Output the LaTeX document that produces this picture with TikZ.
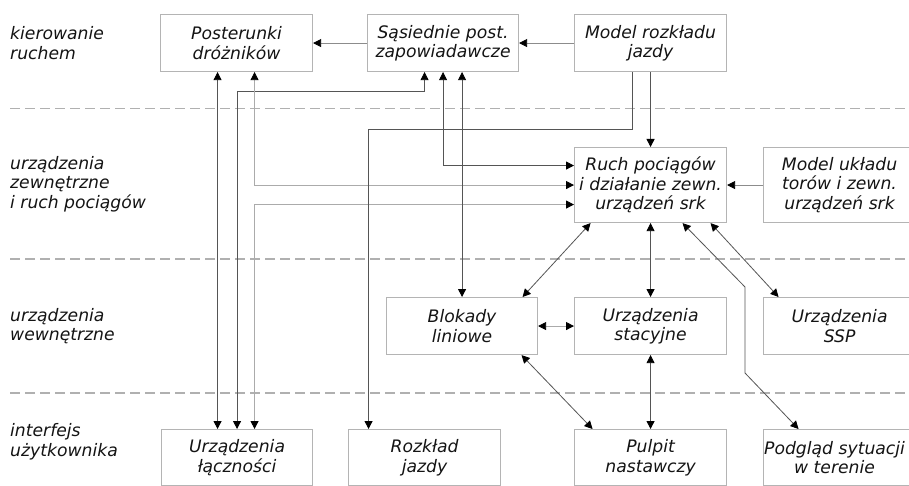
\documentclass[tikz,border=0pt]{standalone}
\usepackage{fontspec}
\setmainfont{DejaVu Sans}
\usetikzlibrary{arrows.meta,calc}
\definecolor{boxline}{HTML}{B4B4B4}
\definecolor{darkline}{HTML}{555555}
\definecolor{midline}{HTML}{8C8C8C}
\definecolor{lightline}{HTML}{ABABAB}
\definecolor{dashcol}{HTML}{B0B0B0}
\definecolor{txt}{HTML}{141414}
\begin{document}
\begin{tikzpicture}[x=1pt,y=-1pt,
  box/.style={draw=boxline,line width=1.1pt,anchor=north west,align=center,
    inner sep=0pt,text=txt,font=\fontsize{17.2}{19.5}\selectfont\itshape},
  lab/.style={anchor=west,align=left,inner sep=0pt,text=txt,
    font=\fontsize{17.2}{19.5}\selectfont\itshape},
  tip/.tip={Triangle[length=8pt,width=8pt,color=black]},
  conn/.style={draw=darkline,line width=0.8pt,-tip},
  conn2/.style={draw=darkline,line width=0.8pt,tip-tip},
  mid/.style={draw=midline},
  light/.style={draw=lightline},
  sep/.style={draw=dashcol,line width=1.4pt,dash pattern=on 10pt off 5pt}]
\useasboundingbox (0,0) rectangle (909,486);
\fill[white] (0,0) rectangle (909,486);
% separators
\draw[sep] (10,108.5) -- (909,108.5);
\draw[sep] (10,259) -- (909,259);
\draw[sep] (10,393) -- (909,393);
% row labels
\node[lab] (l1) at (10,43) {kierowanie\\ruchem};
\node[lab] (l2) at (10,184) {urządzenia\\zewnętrzne\\i ruch pociągów};
\node[lab] (l3) at (10,326) {urządzenia\\wewnętrzne};
\node[lab] (l4) at (10,442) {interfejs\\użytkownika};
% boxes
\node[box,minimum width=152pt,minimum height=57pt] (post) at (160,14) {Posterunki\\dróżników};
\node[box,minimum width=151pt,minimum height=57pt] (sas) at (367,14) {Sąsiednie post.\\zapowiadawcze};
\node[box,minimum width=152pt,minimum height=57pt] (model) at (574,14) {Model rozkładu\\jazdy};
\node[box,minimum width=152pt,minimum height=75pt] (ruch) at (574,147) {Ruch pociągów\\i działanie zewn.\\urządzeń srk};
\node[box,minimum width=152pt,minimum height=75pt] (uklad) at (763,147) {Model układu\\torów i zewn.\\urządzeń srk};
\node[box,minimum width=151pt,minimum height=57pt] (blok) at (386,297) {Blokady\\liniowe};
\node[box,minimum width=152pt,minimum height=57pt] (stac) at (574,297) {Urządzenia\\stacyjne};
\node[box,minimum width=152pt,minimum height=57pt] (ssp) at (763,297) {Urządzenia\\SSP};
\node[box,minimum width=151pt,minimum height=56pt] (lacz) at (161,429) {Urządzenia\\łączności};
\node[box,minimum width=152pt,minimum height=56pt] (rozk) at (348,429) {Rozkład\\jazdy};
\node[box,minimum width=152pt,minimum height=56pt] (pulp) at (574,429) {Pulpit\\nastawczy};
\node[box,minimum width=152pt,minimum height=56pt] (podg) at (763,429) {\hspace*{-10pt}Podgląd sytuacji\\\hspace*{-10pt}w terenie};
% bend points
\coordinate (b1) at (745,287);
\coordinate (b2) at (745,373);
% connectors top row
\draw[conn,mid] (sas.west) -- (post.east);
\draw[conn,mid] (model.west) -- (sas.east);
% to lacznosc
\draw[conn2] ([xshift=-19pt]post.south) -- ([xshift=-19pt]post.south |- lacz.north);
\draw[conn2] ([xshift=-18.5pt]sas.south) -- ++(0,19) -| (lacz.north);
\draw[conn2,light] ([xshift=18pt]post.south) |- (ruch.west);
\draw[conn2,light] ([yshift=-19.5pt]ruch.west) -| ([xshift=17.5pt]lacz.north);
\draw[conn2] (sas.south) |- ([yshift=19.5pt]ruch.west);
\draw[conn2] (blok.north) -- (blok.north |- sas.south);
% model rozkladu
\draw[conn] ([xshift=-18pt]model.south) -- ++(0,57) -| ([xshift=-56pt]rozk.north);
\draw[conn] (model.south) -- (ruch.north);
\draw[conn,mid] (uklad.west) -- (ruch.east);
% ruch links
\draw[conn2] ([xshift=-60pt]ruch.south) -- ([xshift=60.5pt]blok.north);
\draw[conn2] (ruch.south) -- (stac.north);
\draw[conn2] ([xshift=60pt]ruch.south) -- ([xshift=-61pt]ssp.north);
\draw[conn2] ([xshift=32pt]ruch.south) -- (b1) -- (b2) -- ([xshift=-41pt]podg.north);
% internal
\draw[conn2,light] (blok.east) -- (stac.west);
\draw[conn2] ([xshift=59.5pt]blok.south) -- ([xshift=-58pt]pulp.north);
\draw[conn2] (stac.south) -- (pulp.north);
\end{tikzpicture}
\end{document}
